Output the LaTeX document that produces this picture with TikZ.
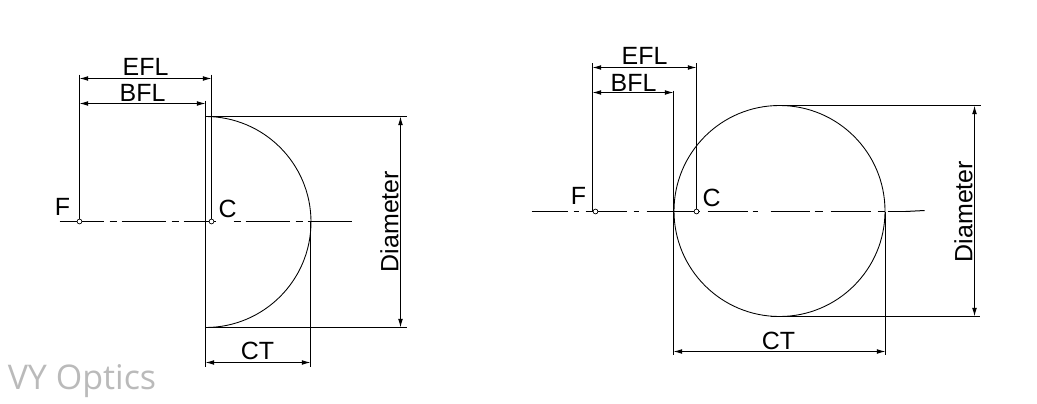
\documentclass[tikz,border=0pt]{standalone}
\usepackage{fontspec}
\setmainfont{Liberation Sans}
\newfontfamily\wmfont{Open Sans}
\usetikzlibrary{arrows.meta}
\tikzset{
  ln/.style={line width=0.75pt,black},
  thin arc/.style={line width=0.65pt,black},
  dim/.style={line width=0.75pt,black,{Latex[length=6.5pt,width=3.6pt]}-{Latex[length=6.5pt,width=3.6pt]}},
  axis/.style={line width=0.75pt,black},
  mark pt/.style={circle,draw=black,fill=white,line width=0.5pt,inner sep=0pt,minimum size=3.6pt},
  lab/.style={font=\fontsize{18.7}{18.7}\selectfont,inner sep=0pt,text=black},
}
\begin{document}
\begin{tikzpicture}[x=0.75pt,y=-0.75pt]
\useasboundingbox (0,0) rectangle (1037,403);
\begin{scope}[shift={(0.5,0.5)}]
% ---- left
\coordinate (LFt) at (79,74); \coordinate (LF) at (79,221);
\coordinate (LCt) at (211,74); \coordinate (LC) at (211,221);
\coordinate (LBt) at (205,100); \coordinate (LBb) at (205,366);
\coordinate (LTa) at (205,116); \coordinate (LTb) at (406,116);
\coordinate (LUa) at (205,327); \coordinate (LUb) at (406,327);
\coordinate (LVt) at (310,221); \coordinate (LVb) at (310,366);
\coordinate (LE1) at (79,78); \coordinate (LE2) at (211,78);
\coordinate (LB1) at (79,103); \coordinate (LB2) at (205,103);
\coordinate (LD1) at (400,116); \coordinate (LD2) at (400,327);
\coordinate (LC1) at (205,362); \coordinate (LC2) at (310,362);
\coordinate (LA1) at (59,221); \coordinate (LA2) at (351,221);
\draw[axis,dash pattern=on 33pt off 4.5pt on 5.25pt off 3.75pt on 33pt off 4.5pt on 5.25pt off 3.75pt on 24pt off 13.5pt on 5.25pt off 3.75pt on 33pt off 4.5pt on 5.25pt off 3.75pt on 33pt off 4pt] (LA1) -- (LA2);
\draw[ln] (LFt)--(LF) (LCt)--(LC) (LBt)--(LBb) (LTa)--(LTb) (LUa)--(LUb) (LVt)--(LVb);
\draw[thin arc] (LTa) arc[start angle=90,end angle=-90,radius=105.5*0.75pt];
\draw[dim] (LE1)--(LE2);
\draw[dim] (LB1)--(LB2);
\draw[dim] (LD1)--(LD2);
\draw[dim] (LC1)--(LC2);
\node[mark pt] (lfm) at (LF) {};
\node[mark pt] (lcm) at (LC) {};
\node[lab] (lefl) at (145,66) {EFL};
\node[lab] (lbfl) at (142,92.5) {BFL};
\node[lab] (lf) at (62,206) {F};
\node[lab] (lc) at (227,208) {C};
\node[lab] (lct) at (257,350) {CT};
\node[lab,rotate=90] (ld) at (389,221) {Diameter};
% ---- right
\coordinate (RFt) at (592,63); \coordinate (RF) at (592,211);
\coordinate (RCt) at (696,63); \coordinate (RC) at (696,211);
\coordinate (RBt) at (673,90); \coordinate (RBb) at (673,354);
\coordinate (RTa) at (775,105); \coordinate (RTb) at (980,105);
\coordinate (RUa) at (770,316); \coordinate (RUb) at (979,316);
\coordinate (RVt) at (885,211); \coordinate (RVb) at (885,354);
\coordinate (RE1) at (592,67); \coordinate (RE2) at (696,67);
\coordinate (RB1) at (592,92); \coordinate (RB2) at (673,92);
\coordinate (RD1) at (974,105); \coordinate (RD2) at (974,316);
\coordinate (RC1) at (673,351); \coordinate (RC2) at (885,351);
\coordinate (RA1) at (531,211); \coordinate (RA2) at (905,211); \coordinate (RA3) at (924,210);
\coordinate (RO) at (779,210.5);
\draw[axis,dash pattern=on 27pt off 4.5pt on 3.75pt off 5.25pt on 30.75pt off 5.25pt on 3.75pt off 6pt on 39.75pt off 6pt on 30pt off 3.75pt on 3.75pt off 9.75pt on 29.25pt off 3.75pt on 6pt off 6pt on 30pt off 5.25pt on 5.25pt off 2.25pt on 30pt off 2pt] (RA1) -- (RA2);
\draw[axis] (RA2) -- (RA3);
\draw[ln] (RFt)--(RF) (RCt)--(RC) (RBt)--(RBb) (RTa)--(RTb) (RUa)--(RUb) (RVt)--(RVb);
\draw[thin arc] (RO) circle[radius=105.5*0.75pt];
\draw[dim] (RE1)--(RE2);
\draw[dim] (RB1)--(RB2);
\draw[dim] (RD1)--(RD2);
\draw[dim] (RC1)--(RC2);
\node[mark pt] (rfm) at (595,211) {};
\node[mark pt] (rcm) at (696,211) {};
\node[lab] (refl) at (644,55) {EFL};
\node[lab] (rbfl) at (633,82) {BFL};
\node[lab] (rf) at (578,195) {F};
\node[lab] (rc) at (711,197) {C};
\node[lab] (rct) at (778,340) {CT};
\node[lab,rotate=90] (rd) at (963,211) {Diameter};
% ---- watermark
\node[font=\wmfont\fontsize{25.5}{25.5}\selectfont,text=black!27,anchor=west,inner sep=0pt] (wm) at (7,381) {VY Optics};
\end{scope}
\end{tikzpicture}
\end{document}
